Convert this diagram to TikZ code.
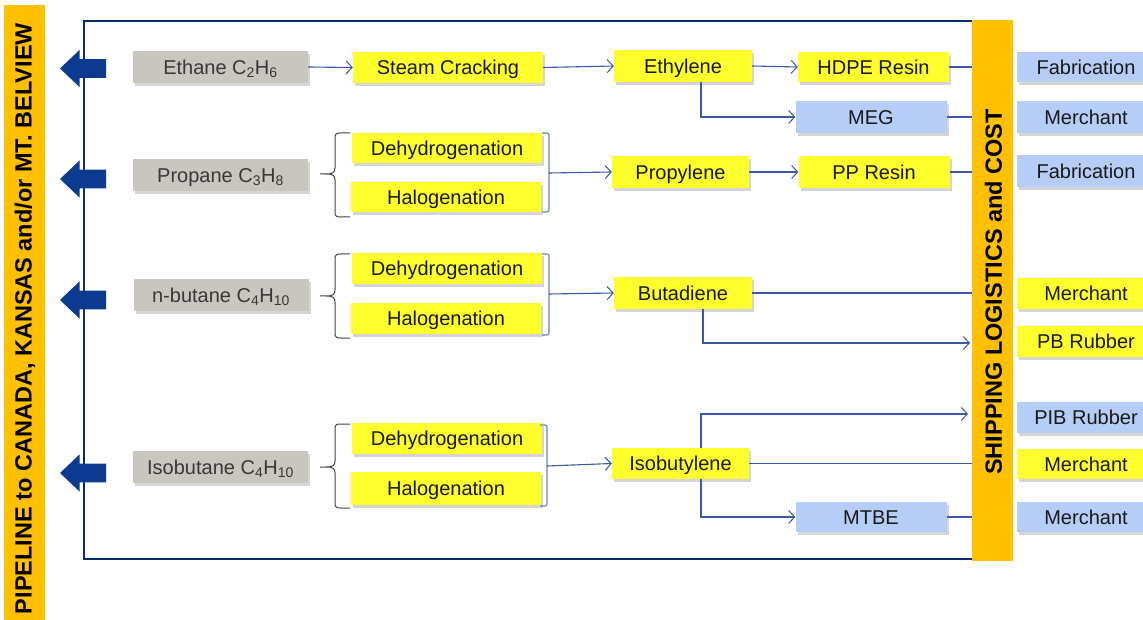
\documentclass[tikz,border=0pt]{standalone}
\usepackage{fontspec}
\setmainfont{Liberation Sans}
\usetikzlibrary{arrows.meta,shadows,calc}
\definecolor{byellow}{HTML}{FFFF2E}
\definecolor{lblue}{HTML}{B6CDF7}
\definecolor{lgray}{HTML}{C9C5BF}
\definecolor{obar}{HTML}{FFC000}
\definecolor{framec}{HTML}{0A2C70}
\definecolor{bigarr}{HTML}{0B3A8E}
\definecolor{connc}{HTML}{3A58A8}
\definecolor{brkc}{HTML}{6A80B8}
\definecolor{bracec}{HTML}{404040}
\begin{document}
\begin{tikzpicture}[x=1pt,y=-1pt,
  box/.style={minimum height=31pt, inner sep=0pt, text height=16pt, text depth=1.7pt,
    font=\fontsize{20}{24}\selectfont, text=black!90,
    drop shadow={shadow xshift=2pt,shadow yshift=-3pt,opacity=0.3,fill=black!55}},
  ybox/.style={box, fill=byellow},
  bbox/.style={box, fill=lblue},
  gbox/.style={box, fill=lgray, text=black!78, minimum width=175pt, minimum height=32pt},
  procbox/.style={ybox, minimum width=190pt},
  prodbox/.style={ybox, minimum width=138pt, minimum height=32pt},
  resbox/.style={minimum width=151pt},
  endbox/.style={minimum width=138pt},
  conn/.style={draw=connc, line width=1.1pt},
  arr/.style={conn, -{Straight Barb[length=6pt,width=13pt,line width=1pt]}},
  barbox/.style={fill=obar, inner sep=0pt},
  bartext/.style={rotate=90, inner sep=0pt, text=black, font=\fontsize{23.5}{28}\selectfont\bfseries}
]
\useasboundingbox (0,0) rectangle (1143,620);

% left pipeline bar
\node[barbox, minimum width=41pt, minimum height=620pt] (pipe) at (24.5,315) {};
\node[bartext] (pipetext) at (25,318.5) {PIPELINE to CANADA, KANSAS and/or MT. BELVIEW};

% frame
\draw[framec, line width=2.8pt] (84,21) rectangle (973,559);

% block arrows
\foreach \c in {68.5,179,300,473}{
  \fill[bigarr] (60,\c) -- (79.5,\c-18.5) -- (79.5,\c-9.3) -- (106,\c-9.3) -- (106,\c+9.3)
     -- (79.5,\c+9.3) -- (79.5,\c+18.5) -- cycle;
}

% shipping bar
\node[barbox, minimum width=41pt, minimum height=541pt] (ship) at (992.5,290.5) {};
\node[bartext] (shiptext) at (993.5,292) {SHIPPING LOGISTICS and COST};

% feed nodes
\node[gbox] (ethane) at (220.5,67) {Ethane C\textsubscript{2}H\textsubscript{6}};
\node[gbox] (propane) at (220.5,175) {Propane C\textsubscript{3}H\textsubscript{8}};
\node[gbox] (nbutane) at (221,295) {n-butane C\textsubscript{4}H\textsubscript{10}};
\node[gbox] (isobutane) at (220.5,467) {Isobutane C\textsubscript{4}H\textsubscript{10}};

% process nodes
\node[procbox] (steam) at (448,67.5) {Steam Cracking};
\node[procbox, minimum height=30pt] (dehyd1) at (447,148) {Dehydrogenation};
\node[procbox, minimum height=30pt] (halo1) at (446,197) {Halogenation};
\node[procbox] (dehyd2) at (447,268.5) {Dehydrogenation};
\node[procbox] (halo2) at (446,318.5) {Halogenation};
\node[procbox] (dehyd3) at (447,438.5) {Dehydrogenation};
\node[procbox, minimum height=33pt] (halo3) at (446,488.5) {Halogenation};

% intermediate products
\node[prodbox] (ethylene) at (683,66) {Ethylene};
\node[prodbox, minimum width=137pt] (propylene) at (680.5,172) {Propylene};
\node[prodbox] (butadiene) at (683,293) {Butadiene};
\node[prodbox, minimum width=137pt, minimum height=31pt] (isobutylene) at (680.5,463.5) {Isobutylene};

% derivatives
\node[ybox, resbox, minimum height=30pt] (hdpe) at (873.5,67) {HDPE Resin};
\node[bbox, resbox, minimum height=32pt] (meg) at (871,117) {MEG};
\node[ybox, resbox, minimum height=32pt] (ppresin) at (874,172) {PP Resin};
\node[bbox, resbox, minimum height=30pt] (mtbe) at (871,517) {MTBE};

% end uses
\node[bbox, endbox, minimum height=30pt] (fab1) at (1086,67) {Fabrication};
\node[bbox, endbox, minimum height=32pt] (merch1) at (1086,117) {Merchant};
\node[bbox, endbox, minimum height=32pt] (fab2) at (1086,171) {Fabrication};
\node[ybox, endbox] (merch2) at (1086,293.5) {Merchant};
\node[ybox, endbox] (pbrubber) at (1086,341.5) {PB Rubber};
\node[bbox, endbox] (pibrubber) at (1086,417.5) {PIB Rubber};
\node[ybox, endbox, minimum height=30pt] (merch3) at (1086,464) {Merchant};
\node[bbox, endbox, minimum height=30pt] (merch4) at (1086,517) {Merchant};

% left braces
\foreach \t/\m/\b in {133/174/217, 254/296/338, 424/467/508}{
  \draw[bracec, line width=1pt]
    (350,\t) -- (341,\t) .. controls (336,\t) and (335,\t+1) .. (335,\t+5)
    -- (335,\m-6) .. controls (335,\m-1) and (332,\m) .. (326,\m) -- (320,\m)
    (326,\m) .. controls (332,\m) and (335,\m+1) .. (335,\m+6)
    -- (335,\b-5) .. controls (335,\b-1) and (336,\b) .. (341,\b) -- (350,\b);
}
% right brackets
\foreach \x/\t/\b in {549/133/212, 549/254/335, 547/425/506}{
  \draw[brkc, line width=1.1pt, rounded corners=2pt] (\x-7,\t) -- (\x,\t) -- (\x,\b) -- (\x-7,\b);
}
\coordinate (br1) at (549,173);
\coordinate (br2) at (549,294);
\coordinate (br3) at (547,466);
\coordinate (ev) at (701,0);
\coordinate (bv) at (703,0);
\coordinate (iv) at (701,0);
\coordinate (pbin) at (970,343);
\coordinate (pibin) at (968,414);

% connectors
\draw[arr] (ethane.east) -- (steam.west);
\draw[arr] (steam.east) -- (ethylene.west);
\draw[arr] (ethylene.east) -- (hdpe.west);
\draw[arr] (ethylene.south -| ev) |- (meg.west);
\draw[conn] (hdpe.east) -- (hdpe.east -| ship.west);
\draw[conn] (meg.east) -- (meg.east -| ship.west);

\draw[arr] (br1) -- (propylene.west);
\draw[arr] (propylene.east) -- (ppresin.west);
\draw[conn] (ppresin.east) -- (ppresin.east -| ship.west);

\draw[arr] (br2) -- (butadiene.west);
\draw[conn] (butadiene.east) -- (butadiene.east -| ship.west);
\draw[arr] (butadiene.south -| bv) |- (pbin);

\draw[arr] (br3) -- (isobutylene.west);
\draw[arr] (isobutylene.north -| iv) |- (pibin);
\draw[conn] (isobutylene.east) -- (isobutylene.east -| ship.west);
\draw[arr] (isobutylene.south -| iv) |- (mtbe.west);
\draw[conn] (mtbe.east) -- (mtbe.east -| ship.west);
\end{tikzpicture}
\end{document}
